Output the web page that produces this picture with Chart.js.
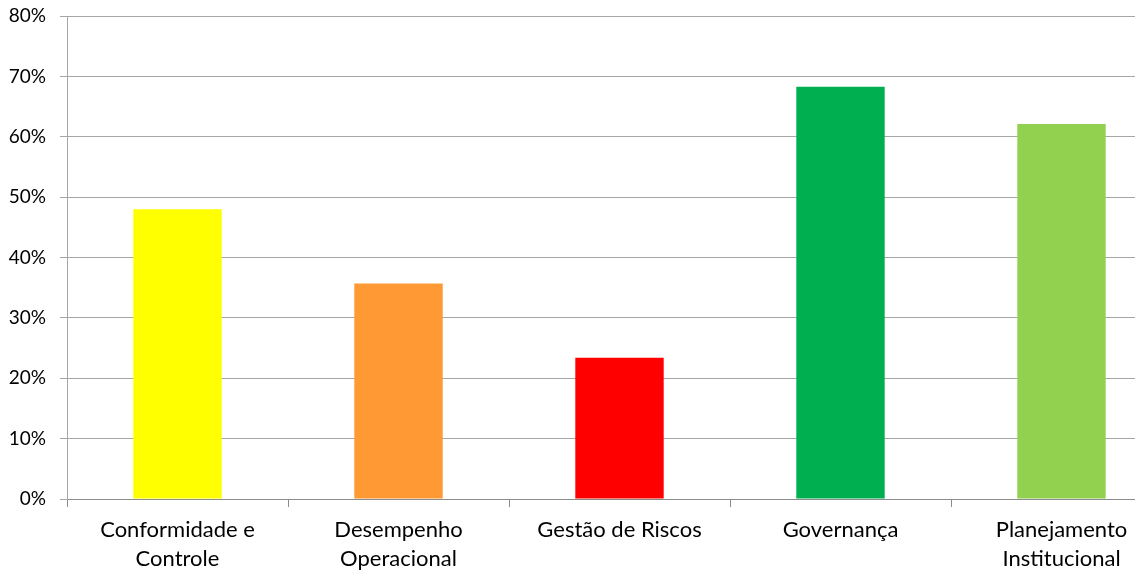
<!DOCTYPE html>
<html>
<head>
<meta charset="utf-8">
<script src="https://cdn.jsdelivr.net/npm/chart.js@4"></script>
<style>
  html, body { margin: 0; padding: 0; background: #fff; overflow: hidden; }
  #wrap { width: 1180px; height: 574px; }
</style>
</head>
<body>
<div id="wrap"><canvas id="myChart" width="1180" height="574"></canvas></div>
<script>
// ==================[Data]==================
const categories = [
    ['Conformidade e', 'Controle'],
    ['Desempenho', 'Operacional'],
    'Gestão de Riscos',
    'Governança',
    ['Planejamento', 'Institucional']
];

const values = [48.0, 35.7, 23.4, 68.3, 62.1];

const barColors = [
    'rgb(255,255,0)',
    'rgb(255,153,51)',
    'rgb(255,0,0)',
    'rgb(0,176,80)',
    'rgb(146,208,80)'
];

const yTicks = [0, 10, 20, 30, 40, 50, 60, 70, 80];

// ==================[Chart]==================
const data = {
    labels: categories,
    datasets: [{
        data: values,
        backgroundColor: barColors,
        borderWidth: 0,
        barPercentage: 0.4,
        categoryPercentage: 1
    }]
};

const config = {
    type: 'bar',
    data: data,
    options: {
        responsive: false,
        animation: false,
        layout: {
            padding: { top: 16, right: 8, bottom: 0, left: 0 }
        },
        plugins: {
            legend: { display: false },
            tooltip: { enabled: false }
        },
        scales: {
            x: {
                afterFit: (scale) => {
                    scale.height = 75;
                    scale.paddingLeft = 0;
                    scale.paddingRight = 0;
                },
                grid: {
                    drawOnChartArea: false,
                    drawTicks: true,
                    tickLength: 8,
                    color: '#8c8c8c'
                },
                border: { display: true, color: '#8c8c8c' },
                ticks: {
                    color: '#000',
                    padding: 9,
                    maxRotation: 0,
                    autoSkip: false,
                    font: { family: 'Lato', size: 22, lineHeight: 1.3 }
                }
            },
            y: {
                min: 0,
                max: 80,
                afterFit: (scale) => {
                    scale.width = 67;
                    scale.paddingTop = 0;
                    scale.paddingBottom = 0;
                },
                afterBuildTicks: (scale) => {
                    scale.ticks = yTicks.map(v => ({ value: v }));
                },
                grid: {
                    color: '#a6a6a6',
                    tickLength: 7
                },
                border: { display: true, color: '#a6a6a6' },
                ticks: {
                    color: '#000',
                    padding: 14,
                    font: { family: 'Lato', size: 19 },
                    callback: (v) => v + '%'
                }
            }
        }
    }
};

const myChart = new Chart(
    document.getElementById('myChart'),
    config
);
</script>
</body>
</html>
